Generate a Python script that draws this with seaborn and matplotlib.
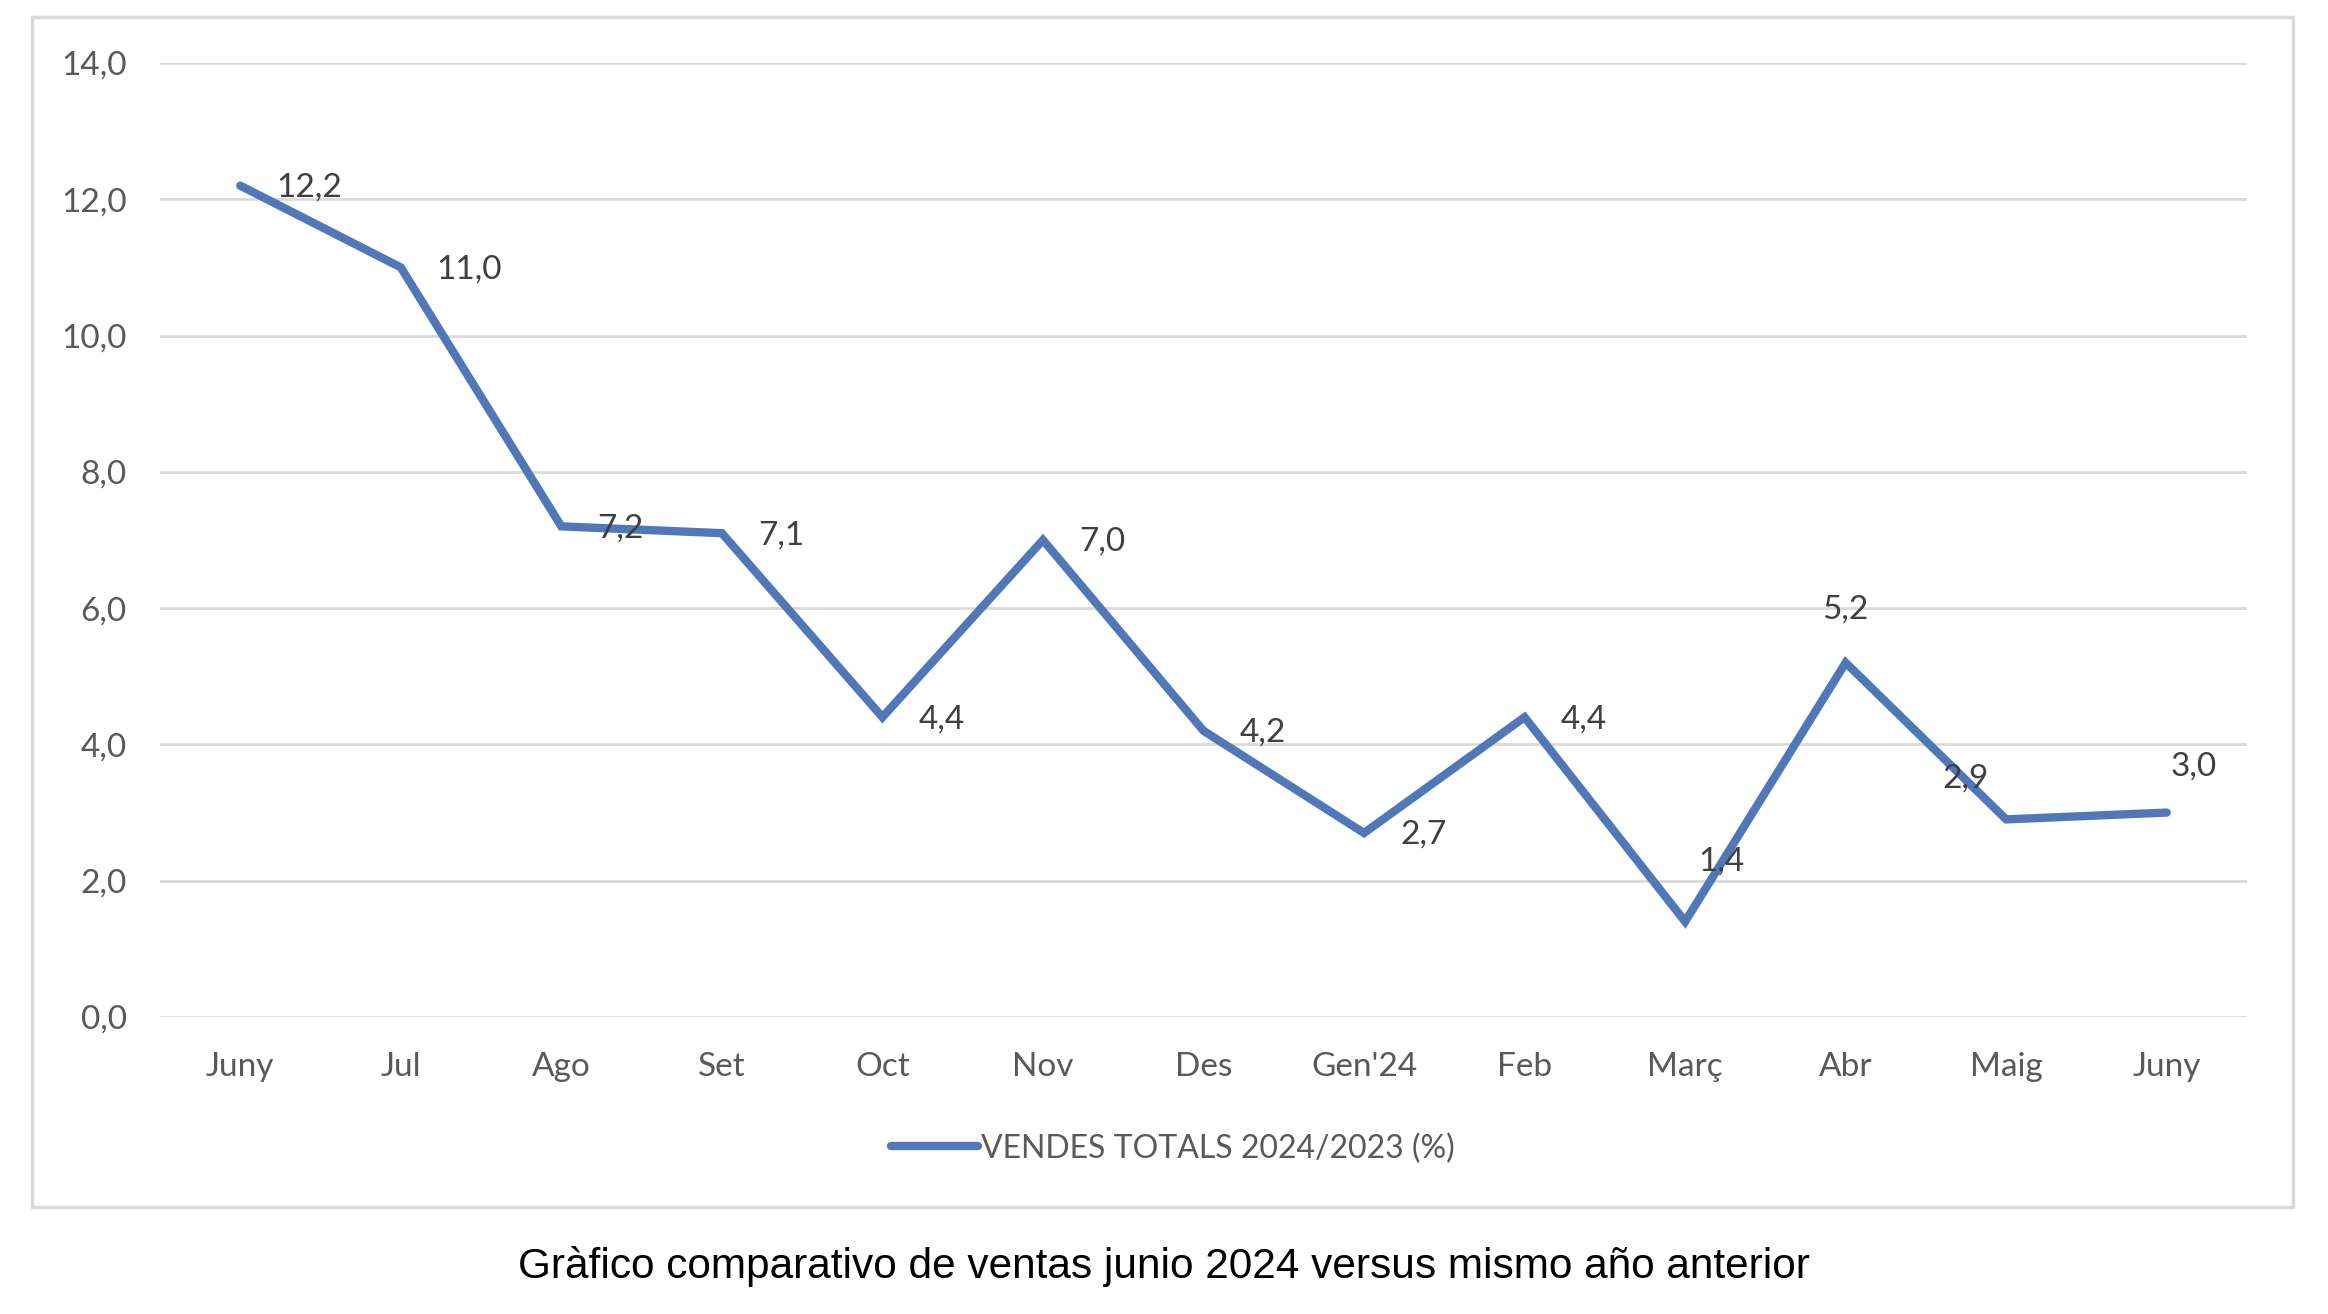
import numpy as np
import pandas as pd
import matplotlib
matplotlib.use("Agg")
import matplotlib.pyplot as plt
import matplotlib.patches as patches
import seaborn as sns

# Data
months = ["Juny", "Jul", "Ago", "Set", "Oct", "Nov", "Des", "Gen'24",
          "Feb", "Març", "Abr", "Maig", "Juny"]
vendes = [12.2, 11.0, 7.2, 7.1, 4.4, 7.0, 4.2, 2.7, 4.4, 1.4, 5.2, 2.9, 3.0]
yticks = [0, 2, 4, 6, 8, 10, 12, 14]
series_name = "VENDES TOTALS 2024/2023 (%)"
caption = "Gràfico comparativo de ventas junio 2024 versus mismo año anterior"

# label placement like Excel's data labels
label_pos = ["right"] * 9 + ["upright", "above", "upleft", "upright2"]

df = pd.DataFrame({"pos": np.arange(len(months)), "val": vendes})

sns.set_style("white")
plt.rcParams["font.family"] = ["Lato", "DejaVu Sans"]

fig = plt.figure(figsize=(23.28, 13.14), dpi=100)
ax = fig.add_axes([160 / 2328, 1 - 1017 / 1314, 2087 / 2328, 954 / 1314])

blue = "#5078B8"
sns.lineplot(data=df, x="pos", y="val", ax=ax, color=blue, linewidth=6,
             label=series_name, zorder=3, solid_joinstyle="miter")

ax.set_xlim(-0.5, len(months) - 0.5)
ax.set_ylim(0, 14)
ax.set_yticks(yticks)
ax.set_yticklabels([f"{v:.1f}".replace(".", ",") for v in yticks])
ax.set_xticks(df["pos"])
ax.set_xticklabels(months)
ax.tick_params(axis="both", length=0, labelsize=24, colors="#595959")
ax.tick_params(axis="y", pad=24)
ax.tick_params(axis="x", pad=25)
ax.set_xlabel("")
ax.set_ylabel("")
for s in ax.spines.values():
    s.set_visible(False)
ax.grid(axis="y", color="#D9D9D9", linewidth=2)
ax.set_axisbelow(True)

for x, v, p in zip(df["pos"], vendes, label_pos):
    txt = f"{v:.1f}".replace(".", ",")
    if p == "right":
        off, ha = (36, -2), "left"
    elif p == "upright":
        off, ha = (36, 60), "center"
    elif p == "above":
        off, ha = (0, 53), "center"
    elif p == "upleft":
        off, ha = (-41, 41), "center"
    else:
        off, ha = (27, 46), "center"
    ax.annotate(txt, (x, v), xytext=off, textcoords="offset pixels",
                ha=ha, va="center", fontsize=24, color="#404040", zorder=4)

leg = ax.legend(loc="center", bbox_to_anchor=(1173 / 2328, 0.126),
                bbox_transform=fig.transFigure, frameon=False, fontsize=23,
                handlelength=2.7, handletextpad=0.1)
for t in leg.get_texts():
    t.set_color("#595959")

# outer chart frame
fig.patches.append(patches.Rectangle((32 / 2328, 1 - 1207 / 1314),
                                     2261 / 2328, 1190 / 1314,
                                     transform=fig.transFigure, fill=False,
                                     edgecolor="#D9D9D9", linewidth=2.5))

fig.text(0.5, 0.036, caption, ha="center", va="center", fontsize=30.5,
         color="black", family=["Liberation Sans", "DejaVu Sans"])

fig.savefig("out.png", dpi=100)
